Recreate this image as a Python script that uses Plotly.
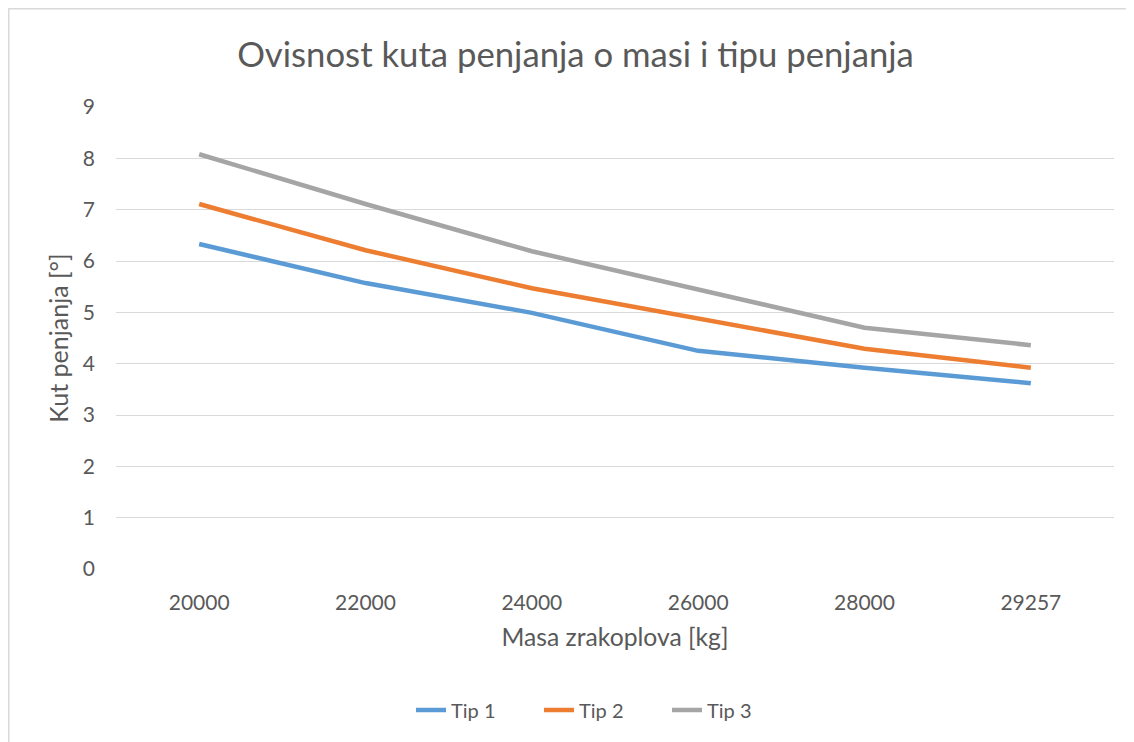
import plotly.graph_objects as go

masses = ["20000", "22000", "24000", "26000", "28000", "29257"]
tip1 = [6.33, 5.57, 4.99, 4.25, 3.92, 3.62]
tip2 = [7.11, 6.21, 5.47, 4.89, 4.29, 3.92]
tip3 = [8.08, 7.11, 6.19, 5.45, 4.70, 4.36]
series_names = ["Tip 1", "Tip 2", "Tip 3"]
colors = ["#5B9BD5", "#ED7D31", "#A5A5A5"]

FONT = "Lato"
TXT = "#595959"

fig = go.Figure()
for name, vals, col in zip(series_names, [tip1, tip2, tip3], colors):
    fig.add_trace(go.Scatter(x=masses, y=vals, mode="lines", name=name,
                             line=dict(color=col, width=4.5)))

W, H = 1134, 742
OFF = 8  # page body margin
ml, mt = 116 - OFF, 107 - OFF
mr = W - (1114 - OFF)
mb = H - (569 - OFF)
pw, ph = W - ml - mr, H - mt - mb

fig.update_layout(
    width=W, height=H,
    margin=dict(l=ml, r=mr, t=mt, b=mb, autoexpand=False),
    paper_bgcolor="white", plot_bgcolor="white",
    font=dict(family=FONT, color=TXT, size=20),
    title=dict(text="Ovisnost kuta penjanja o masi i tipu penjanja",
               x=(575.5 - OFF) / W, xanchor="center",
               y=1 - (55 - OFF) / H, yanchor="middle",
               font=dict(size=34.7, color=TXT, family=FONT)),
    xaxis=dict(type="category", range=[-0.5, 5.5], automargin=False,
               showgrid=False, zeroline=False, showline=False,
               ticks="", ticklabelstandoff=19, tickfont=dict(size=21, color=TXT),
               title=dict(text="Masa zrakoplova [kg]", font=dict(size=24.7, color=TXT), standoff=15)),
    yaxis=dict(range=[0, 9], dtick=1, showgrid=True, gridcolor="#D9D9D9", gridwidth=1.3,
               automargin=False,
               zeroline=False, showline=False, ticks="", ticklabelstandoff=20,
               tickfont=dict(size=21, color=TXT),
               title=dict(text="Kut penjanja [°]", font=dict(size=25, color=TXT), standoff=7)),
    legend=dict(orientation="h", x=(603 - OFF - ml) / pw, xanchor="center",
                y=-(710 - 569) / ph, yanchor="middle",
                font=dict(size=20, color=TXT), traceorder="normal",
                entrywidth=83, entrywidthmode="pixels"),
    showlegend=True,
    shapes=[dict(type="rect", xref="paper", yref="paper",
                 x0=(0.75 - ml) / pw, x1=1.5, y0=-1.0, y1=(H - mb - 0.75) / ph,
                 line=dict(color="#D9D9D9", width=1.5), fillcolor="rgba(0,0,0,0)", layer="below")],
)

fig.write_html("out.html")
